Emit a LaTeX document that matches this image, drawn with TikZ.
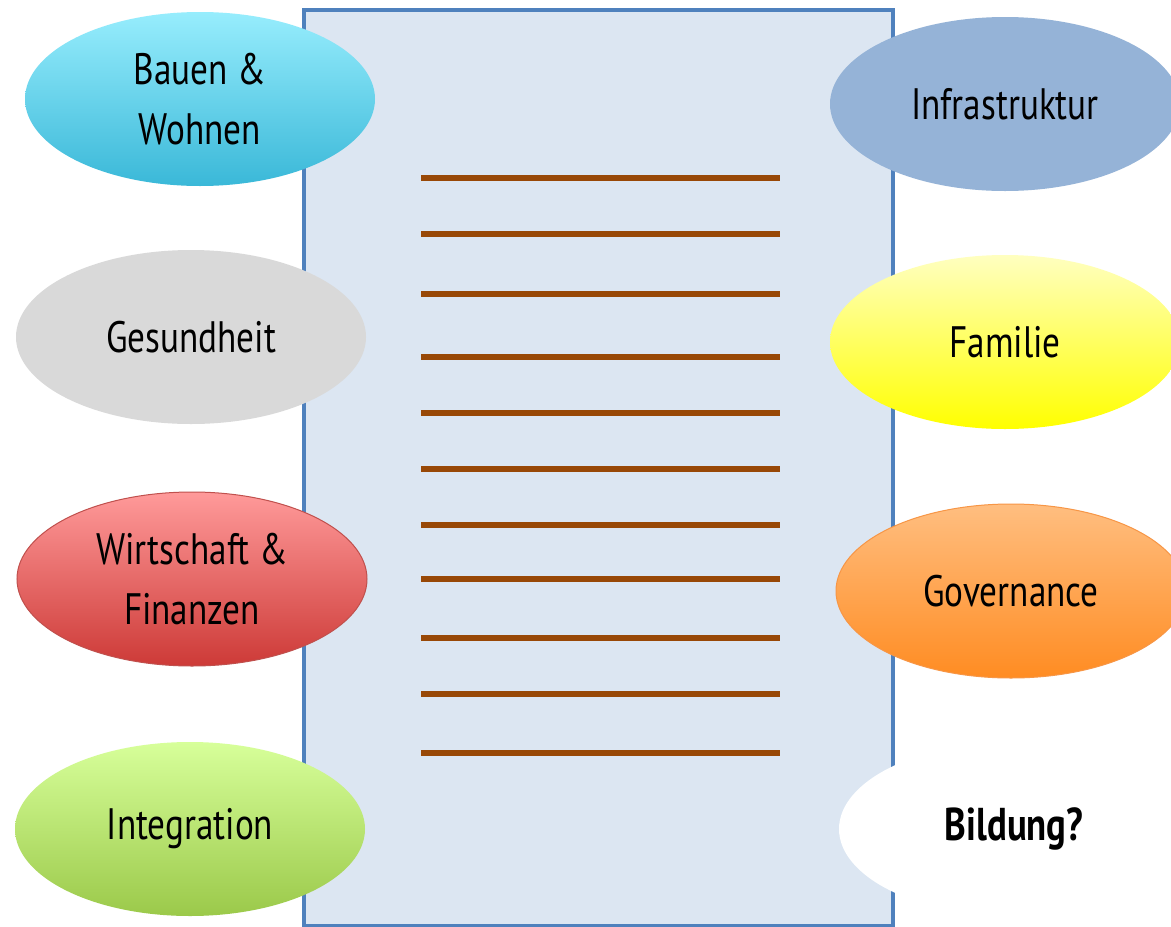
\documentclass[tikz,border=0pt]{standalone}
\usepackage{fontspec}
\setmainfont{PT Sans}[FakeStretch=0.8]
\usetikzlibrary{shapes.geometric}
\definecolor{frameblue}{HTML}{4F81BD}
\definecolor{framefill}{HTML}{DCE6F2}
\definecolor{linebrown}{HTML}{984807}
\tikzset{
  topic/.style={ellipse, minimum width=350pt, minimum height=174pt, inner sep=0pt,
    align=center, font=\fontsize{44}{60}\selectfont, text=black},
  rule/.style={draw=linebrown, line width=6pt},
}
\begin{document}
\begin{tikzpicture}[x=1pt,y=-1pt]
\useasboundingbox (0,0) rectangle (1171,927);
\clip (0,0) rectangle (1171,927);
\fill[white] (0,0) rectangle (1171,927);
\draw[draw=frameblue, fill=framefill, line width=4.5pt] (304,10) rectangle (893,926);
\foreach \yy in {178,234,294,357,413,469,525,579,638,694,753}{
  \draw[rule] (421,\yy) -- (780,\yy);
}
\node[topic, top color={rgb,255:red,151;green,237;blue,253}, bottom color={rgb,255:red,58;green,184;blue,216}] (bau) at (200,99) {Bauen \&\\Wohnen};
\node[topic, fill={rgb,255:red,217;green,217;blue,217}] (ges) at (191,337) {Gesundheit};
\node[topic, draw={rgb,255:red,192;green,80;blue,77}, line width=1pt, top color={rgb,255:red,255;green,154;blue,154}, bottom color={rgb,255:red,205;green,58;blue,55}] (wir) at (192,579) {Wirtschaft \&\\Finanzen};
\node[topic, top color={rgb,255:red,215;green,255;blue,154}, bottom color={rgb,255:red,155;green,201;blue,74}] (int) at (190,829) {Integration};
\node[topic, fill={rgb,255:red,149;green,179;blue,215}] (inf) at (1005,104) {Infrastruktur};
\node[topic, top color={rgb,255:red,255;green,255;blue,192}, bottom color={rgb,255:red,255;green,255;blue,0}] (fam) at (1005,342) {Familie};
\node[topic, draw={rgb,255:red,247;green,150;blue,70}, line width=1pt, top color={rgb,255:red,255;green,190;blue,128}, bottom color={rgb,255:red,255;green,140;blue,34}] (gov) at (1011,591) {Governance};
\node[topic, fill=white, font=\fontsize{46}{60}\selectfont\bfseries] (bil) at (1014,829) {Bildung?};
\end{tikzpicture}
\end{document}
